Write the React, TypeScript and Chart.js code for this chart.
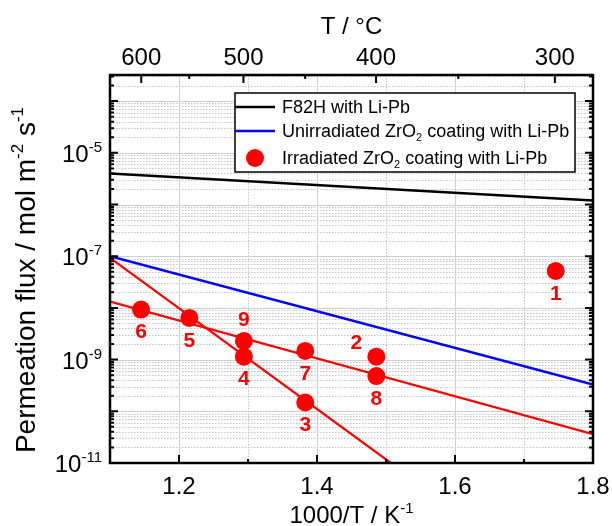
import React, { useEffect, useRef } from 'react';
import { Chart, registerables } from 'chart.js';

Chart.register(...registerables);

// ---- data ----
const pointX = [1.746, 1.486, 1.383, 1.294, 1.215, 1.145, 1.383, 1.486, 1.294];
const pointY = [5.2e-8, 1.14e-9, 1.48e-10, 1.14e-9, 6.4e-9, 9.3e-9, 1.47e-9, 4.8e-10, 2.3e-9];
const pointLabels = ['1', '2', '3', '4', '5', '6', '7', '8', '9'];
const pointLabelSide = ['below', 'aboveLeft', 'below', 'below', 'below', 'below', 'below', 'below', 'above'];

const f82hX = [1.1, 1.8];
const f82hY = [4.0e-6, 1.2e-6];
const unirrX = [1.1, 1.8];
const unirrY = [1.0e-7, 3.3e-10];
const fitAX = [1.1, 1.8];
const fitAY = [1.32e-8, 3.6e-11];
const fitBX = [1.1, 1.507];
const fitBY = [9.3e-8, 1.0e-11];

const xMajorTicks = [1.2, 1.4, 1.6];
const xMinorTicks = [1.3, 1.5, 1.7];
const xTickLabels = ['1.2', '1.4', '1.6', '1.8'];
const xTickLabelValues = [1.2, 1.4, 1.6, 1.8];
const topMajorTemps = [600, 500, 400, 300];
const topMinorTemps = [550, 450, 350];
const yLabelExps = [-5, -7, -9, -11];
const yDecadeExps = [-11, -10, -9, -8, -7, -6, -5, -4];

const X_MIN = 1.1;
const X_MAX = 1.8;
const Y_MIN = 1e-11;
const Y_MAX = 3.2e-4;

const FONT = '"Liberation Sans", Arial, Helvetica, sans-serif';

type Part = { t: string; sup?: boolean; sub?: boolean };

function drawRich(ctx: CanvasRenderingContext2D, parts: Part[], x: number, y: number, size: number, align: 'left' | 'center' | 'right', weight = 'normal') {
  const small = Math.round(size * 0.62);
  let total = 0;
  const widths: number[] = [];
  for (const p of parts) {
    ctx.font = `${weight} ${p.sup || p.sub ? small : size}px ${FONT}`;
    const w = ctx.measureText(p.t).width;
    widths.push(w);
    total += w;
  }
  let cx = align === 'left' ? x : align === 'center' ? x - total / 2 : x - total;
  ctx.textAlign = 'left';
  ctx.textBaseline = 'alphabetic';
  parts.forEach((p, i) => {
    ctx.font = `${weight} ${p.sup || p.sub ? small : size}px ${FONT}`;
    const dy = p.sup ? -size * 0.42 : p.sub ? size * 0.22 : 0;
    ctx.fillText(p.t, cx, y + dy);
    cx += widths[i];
  });
}

const decorPlugin = {
  id: 'decor',
  beforeDatasetsDraw(chart: any) {
    const { ctx, chartArea: a, scales } = chart;
    const xs = scales.x;
    const ys = scales.y;
    ctx.save();
    ctx.fillStyle = '#ffffff';
    ctx.fillRect(a.left, a.top, a.right - a.left, a.bottom - a.top);
    // minor grid (dotted)
    ctx.strokeStyle = '#c4c4c4';
    ctx.lineWidth = 1;
    ctx.setLineDash([1.5, 1.5]);
    for (const e of yDecadeExps) {
      for (let m = 2; m <= 9; m++) {
        const v = m * Math.pow(10, e);
        if (v >= Y_MAX) continue;
        const py = Math.round(ys.getPixelForValue(v)) + 0.5;
        ctx.beginPath();
        ctx.moveTo(a.left, py);
        ctx.lineTo(a.right, py);
        ctx.stroke();
      }
    }
    for (const v of xMinorTicks) {
      const px = Math.round(xs.getPixelForValue(v)) + 0.5;
      ctx.beginPath();
      ctx.moveTo(px, a.top);
      ctx.lineTo(px, a.bottom);
      ctx.stroke();
    }
    // major grid (solid)
    ctx.setLineDash([]);
    ctx.strokeStyle = '#cfcfcf';
    for (const e of yDecadeExps) {
      const v = Math.pow(10, e);
      if (v <= Y_MIN || v >= Y_MAX) continue;
      const py = Math.round(ys.getPixelForValue(v)) + 0.5;
      ctx.beginPath();
      ctx.moveTo(a.left, py);
      ctx.lineTo(a.right, py);
      ctx.stroke();
    }
    for (const v of xMajorTicks) {
      const px = Math.round(xs.getPixelForValue(v)) + 0.5;
      ctx.beginPath();
      ctx.moveTo(px, a.top);
      ctx.lineTo(px, a.bottom);
      ctx.stroke();
    }
    ctx.restore();
  },
  afterDatasetsDraw(chart: any) {
    const { ctx, chartArea: a, scales } = chart;
    const xs = scales.x;
    const ys = scales.y;
    ctx.save();
    // point labels
    const meta = chart.getDatasetMeta(3);
    ctx.fillStyle = '#ff0000';
    ctx.font = `bold 21px ${FONT}`;
    ctx.textAlign = 'center';
    ctx.textBaseline = 'middle';
    meta.data.forEach((el: any, i: number) => {
      const side = pointLabelSide[i];
      let dx = 0;
      let dy = 23;
      if (side === 'above') dy = -21;
      if (side === 'aboveLeft') { dx = -20; dy = -13; }
      ctx.fillText(pointLabels[i], el.x + dx, el.y + dy);
    });

    // ticks
    ctx.strokeStyle = '#000';
    ctx.lineWidth = 2;
    const major = 8;
    const minor = 4;
    const vtick = (px: number, len: number) => {
      ctx.beginPath();
      ctx.moveTo(px, a.bottom);
      ctx.lineTo(px, a.bottom - len);
      ctx.stroke();
    };
    xMajorTicks.forEach((v) => vtick(xs.getPixelForValue(v), major));
    xMinorTicks.forEach((v) => vtick(xs.getPixelForValue(v), minor));
    const ttick = (T: number, len: number) => {
      const px = xs.getPixelForValue(1000 / (T + 273.15));
      ctx.beginPath();
      ctx.moveTo(px, a.top);
      ctx.lineTo(px, a.top + len);
      ctx.stroke();
    };
    topMajorTemps.forEach((T) => ttick(T, major));
    topMinorTemps.forEach((T) => ttick(T, minor));
    const htick = (py: number, len: number) => {
      ctx.beginPath();
      ctx.moveTo(a.left, py);
      ctx.lineTo(a.left + len, py);
      ctx.moveTo(a.right, py);
      ctx.lineTo(a.right - len, py);
      ctx.stroke();
    };
    for (const e of yDecadeExps) {
      for (let m = 1; m <= 9; m++) {
        const v = m * Math.pow(10, e);
        if (v >= Y_MAX || v <= Y_MIN) continue;
        htick(ys.getPixelForValue(v), m === 1 ? major : minor);
      }
    }

    // border
    ctx.lineWidth = 2.5;
    ctx.strokeRect(a.left, a.top, a.right - a.left, a.bottom - a.top);

    // tick labels
    ctx.fillStyle = '#000';
    ctx.font = `24px ${FONT}`;
    ctx.textAlign = 'center';
    ctx.textBaseline = 'alphabetic';
    xTickLabelValues.forEach((v, i) => {
      ctx.fillText(xTickLabels[i], xs.getPixelForValue(v), a.bottom + 31);
    });
    topMajorTemps.forEach((T) => {
      ctx.fillText(String(T), xs.getPixelForValue(1000 / (T + 273.15)), a.top - 10);
    });
    yLabelExps.forEach((e) => {
      const py = ys.getPixelForValue(Math.pow(10, e));
      drawRich(ctx, [{ t: '10' }, { t: '-' + String(-e), sup: true }], a.left - 8, py + 9, 24, 'right');
    });

    // axis titles
    const cx = (a.left + a.right) / 2;
    drawRich(ctx, [{ t: '1000/T / K' }, { t: '-1', sup: true }], cx, a.bottom + 60, 24, 'center');
    drawRich(ctx, [{ t: 'T / °C' }], cx, a.top - 41, 24, 'center');
    ctx.save();
    ctx.translate(35, (a.top + a.bottom) / 2 + 11);
    ctx.rotate(-Math.PI / 2);
    drawRich(ctx, [{ t: 'Permeation flux / mol m' }, { t: '-2', sup: true }, { t: ' s' }, { t: '-1', sup: true }], 0, 0, 28, 'center');
    ctx.restore();

    // legend
    const lx = a.left + 125;
    const ly = a.top + 18;
    const lw = 340;
    const lh = 79;
    ctx.fillStyle = '#fff';
    ctx.fillRect(lx, ly, lw, lh);
    ctx.lineWidth = 1.5;
    ctx.strokeStyle = '#000';
    ctx.strokeRect(lx, ly, lw, lh);
    const rows = [ly + 14, ly + 38, ly + 65];
    ctx.lineWidth = 2.5;
    ctx.strokeStyle = '#000';
    ctx.beginPath();
    ctx.moveTo(lx, rows[0]);
    ctx.lineTo(lx + 40, rows[0]);
    ctx.stroke();
    ctx.strokeStyle = '#0000ff';
    ctx.beginPath();
    ctx.moveTo(lx, rows[1]);
    ctx.lineTo(lx + 40, rows[1]);
    ctx.stroke();
    ctx.fillStyle = '#ff0000';
    ctx.beginPath();
    ctx.arc(lx + 20, rows[2], 9, 0, Math.PI * 2);
    ctx.fill();
    ctx.fillStyle = '#000';
    const tx = lx + 47;
    drawRich(ctx, [{ t: chart.data.datasets[0].label }], tx, rows[0] + 6, 18, 'left');
    drawRich(ctx, [{ t: 'Unirradiated ZrO' }, { t: '2', sub: true }, { t: ' coating with Li-Pb' }], tx, rows[1] + 6, 18, 'left');
    drawRich(ctx, [{ t: 'Irradiated ZrO' }, { t: '2', sub: true }, { t: ' coating with Li-Pb' }], tx, rows[2] + 6, 18, 'left');
    ctx.restore();
  },
};

const toXY = (xsArr: number[], ysArr: number[]) => xsArr.map((x, i) => ({ x, y: ysArr[i] }));

export default function App() {
  const ref = useRef<HTMLCanvasElement | null>(null);
  useEffect(() => {
    if (!ref.current) return;
    const chart = new Chart(ref.current, {
      type: 'scatter',
      data: {
        datasets: [
          { label: 'F82H with Li-Pb', data: toXY(f82hX, f82hY), showLine: true, borderColor: '#000000', borderWidth: 2.5, pointRadius: 0 },
          { label: 'Unirradiated ZrO2 coating with Li-Pb', data: toXY(unirrX, unirrY), showLine: true, borderColor: '#0000ff', borderWidth: 2.5, pointRadius: 0 },
          { label: 'Fit A', data: toXY(fitAX, fitAY), showLine: true, borderColor: '#ff0000', borderWidth: 2.2, pointRadius: 0 },
          { label: 'Irradiated ZrO2 coating with Li-Pb', data: toXY(pointX, pointY), showLine: false, backgroundColor: '#ff0000', borderColor: '#ff0000', borderWidth: 0, pointRadius: 9 },
          { label: 'Fit B', data: toXY(fitBX, fitBY), showLine: true, borderColor: '#ff0000', borderWidth: 2.2, pointRadius: 0 },
        ],
      },
      options: {
        responsive: false,
        animation: false,
        devicePixelRatio: 1,
        layout: { padding: { left: 110, right: 19, top: 75, bottom: 63 } },
        plugins: { legend: { display: false }, tooltip: { enabled: false } },
        scales: {
          x: { type: 'linear', min: X_MIN, max: X_MAX, display: false },
          y: { type: 'logarithmic', min: Y_MIN, max: Y_MAX, display: false },
        },
      },
      plugins: [decorPlugin],
    });
    return () => chart.destroy();
  }, []);
  return (
    <div style={{ position: 'fixed', left: 0, top: 0, width: 612, height: 526, background: '#fff' }}>
      <canvas ref={ref} width={612} height={526} />
    </div>
  );
}
